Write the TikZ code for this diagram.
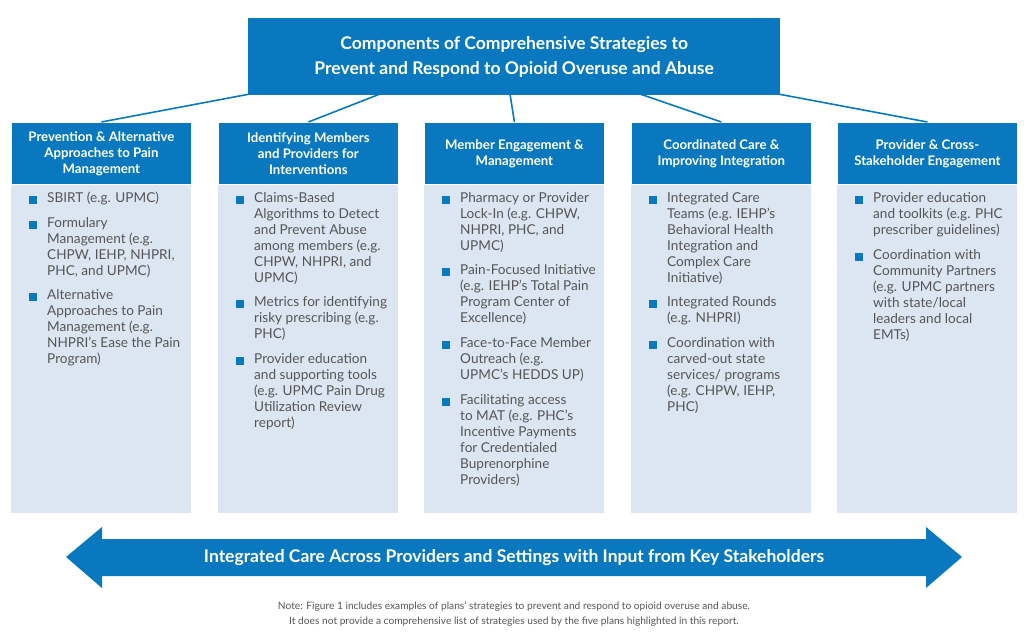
\documentclass[tikz,border=0pt]{standalone}
\usepackage{fontspec}
\setmainfont{Lato}
\definecolor{hb}{HTML}{0A78BE}
\definecolor{lb}{HTML}{DCE6F2}
\definecolor{tx}{HTML}{555555}
\begin{document}
\begin{tikzpicture}[x=1pt,y=-1pt,
 hdr/.style={fill=hb,draw=white,line width=0.8pt,text=white,font=\fontsize{13.2}{16}\selectfont\bfseries,align=center,minimum width=180pt,minimum height=62pt,anchor=north west,inner sep=0pt},
 bodybox/.style={fill=lb,draw=none,minimum width=180pt,minimum height=329pt,anchor=north west,inner sep=0pt},
 itm/.style={anchor=north west,text=tx,font=\fontsize{13.6}{16}\selectfont,align=left,inner sep=0pt},
 bul/.style={fill=hb,minimum size=8pt,inner sep=0pt,anchor=north west},
 con/.style={draw=hb,line width=1.6pt}]
\useasboundingbox (0,0) rectangle (1024,634);
\node[fill=hb,minimum width=532pt,minimum height=77pt,anchor=north west,inner sep=0pt,text=white,align=center,font=\fontsize{17.5}{25}\selectfont\bfseries] (top) at (248,18) {Components of Comprehensive Strategies to\\Prevent and Respond to Opioid Overuse and Abuse};
\foreach \i/\x/\t in {1/11/{Prevention \& Alternative\\Approaches to Pain\\Management},2/218/{Identifying Members\\and Providers for\\Interventions},3/424/{Member Engagement \&\\Management},4/631/{Coordinated Care \&\\Improving Integration},5/837/{Provider \& Cross-\\Stakeholder Engagement}}{
 \node[bodybox] (b\i) at (\x,184) {};
 \node[hdr] (h\i) at (\x,122) {\t};
}
\coordinate (t1) at (250,94); \coordinate (t2) at (380,94); \coordinate (t3) at (510,94);
\coordinate (t4) at (640,94); \coordinate (t5) at (778,94);
\draw[con] (t1) -- (h1.north);
\draw[con] (t2) -- (h2.north);
\draw[con] (t3) -- (h3.north);
\draw[con] (t4) -- (h4.north);
\draw[con] (t5) -- (h5.north);
\newcommand{\itemat}[3]{\node[bul] at (#1+18,#2+4) {}; \node[itm] at (#1+36,#2) {#3};}
\itemat{11}{192}{SBIRT (e.g. UPMC)}
\itemat{11}{217}{Formulary\\Management (e.g.\\CHPW, IEHP, NHPRI,\\PHC, and UPMC)}
\itemat{11}{289}{Alternative\\Approaches to Pain\\Management (e.g.\\NHPRI’s Ease the Pain\\Program)}
\itemat{218}{192}{Claims-Based\\Algorithms to Detect\\and Prevent Abuse\\among members (e.g.\\CHPW, NHPRI, and\\UPMC)}
\itemat{218}{296}{Metrics for identifying\\risky prescribing (e.g.\\PHC)}
\itemat{218}{353}{Provider education\\and supporting tools\\(e.g. UPMC Pain Drug\\Utilization Review\\report)}
\itemat{424}{192}{Pharmacy or Provider\\Lock-In (e.g. CHPW,\\NHPRI, PHC, and\\UPMC)}
\itemat{424}{264}{Pain-Focused Initiative\\(e.g. IEHP’s Total Pain\\Program Center of\\Excellence)}
\itemat{424}{337}{Face-to-Face Member\\Outreach (e.g.\\UPMC’s HEDDS UP)}
\itemat{424}{394}{Facilitating access\\to MAT (e.g. PHC’s\\Incentive Payments\\for Credentialed\\Buprenorphine\\Providers)}
\itemat{631}{192}{Integrated Care\\Teams (e.g. IEHP’s\\Behavioral Health\\Integration and\\Complex Care\\Initiative)}
\itemat{631}{296}{Integrated Rounds\\(e.g. NHPRI)}
\itemat{631}{337}{Coordination with\\carved-out state\\services/ programs\\(e.g. CHPW, IEHP,\\PHC)}
\itemat{837}{192}{Provider education\\and toolkits (e.g. PHC\\prescriber guidelines)}
\itemat{837}{249}{Coordination with\\Community Partners\\(e.g. UPMC partners\\with state/local\\leaders and local\\EMTs)}
\fill[hb] (66,557) -- (102,527) -- (102,539) -- (926,539) -- (926,527) -- (962,557) -- (926,588) -- (926,576) -- (102,576) -- (102,588) -- cycle;
\node[text=white,font=\fontsize{17.5}{20}\selectfont\bfseries] (arrt) at (514,558) {Integrated Care Across Providers and Settings with Input from Key Stakeholders};
\node[text=tx,align=center,font=\fontsize{10.2}{15}\selectfont] (note) at (514,614) {Note: Figure 1 includes examples of plans’ strategies to prevent and respond to opioid overuse and abuse.\\It does not provide a comprehensive list of strategies used by the five plans highlighted in this report.};
\end{tikzpicture}
\end{document}
